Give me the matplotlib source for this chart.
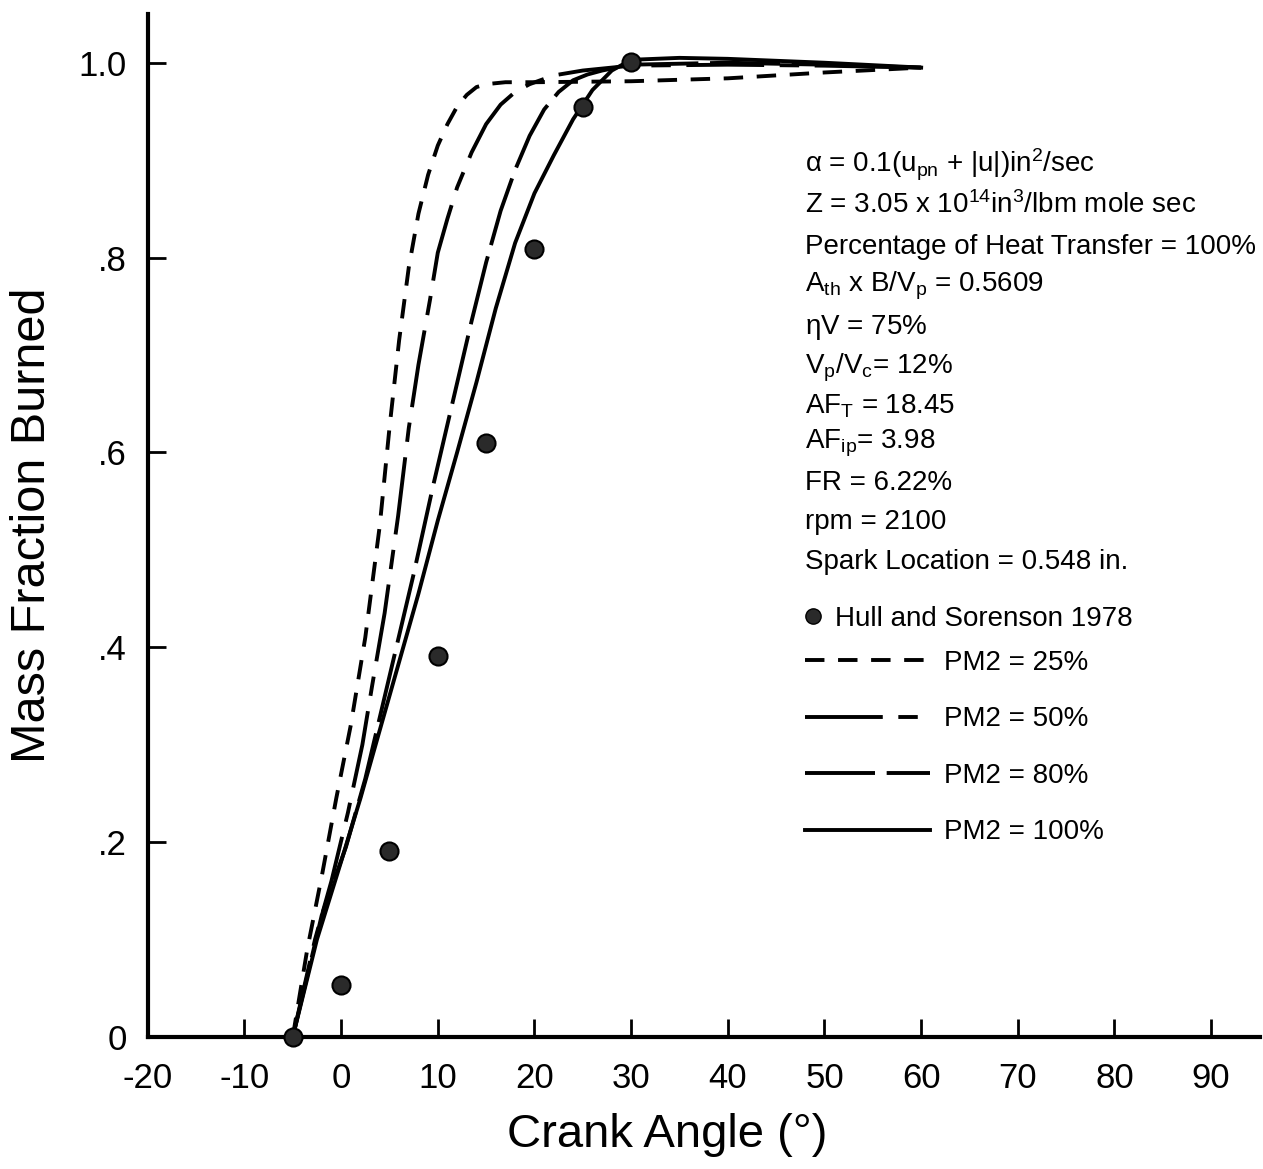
import matplotlib
matplotlib.use("Agg")
import matplotlib.pyplot as plt
from matplotlib.lines import Line2D

plt.rcParams['font.family'] = ['Liberation Sans', 'DejaVu Sans']
plt.rcParams['mathtext.fontset'] = 'custom'
plt.rcParams['mathtext.rm'] = 'Liberation Sans'
plt.rcParams['mathtext.it'] = 'Liberation Sans'
plt.rcParams['mathtext.default'] = 'regular'

# Hull and Sorenson 1978 measurements
exp_x = [-5, 0, 5, 10, 15, 20, 25, 30]
exp_y = [0.0, 0.053, 0.191, 0.391, 0.61, 0.809, 0.955, 1.001]

# PM2 = 25 %
pm25_x = [-5, -3.5, -2, -0.5, 1, 2.5, 4, 5, 6, 7, 8, 9, 10, 11, 12, 13, 14, 15, 17,
          20, 30, 40, 50, 60]
pm25_y = [0.0, 0.09, 0.165, 0.245, 0.32, 0.41, 0.525, 0.625, 0.715, 0.79, 0.845, 0.885,
          0.915, 0.937, 0.955, 0.967, 0.975, 0.978, 0.98, 0.98, 0.981, 0.984, 0.99, 0.995]

# PM2 = 50 %
pm50_x = [-5, -2.7, -1, 0.7, 2.2, 3.2, 4.5, 5.9, 7, 8, 9.2, 10, 11, 12, 13.5, 15, 16.5,
          18, 19.5, 22, 25, 30, 40, 50, 60]
pm50_y = [0.0, 0.1, 0.16, 0.23, 0.3, 0.36, 0.435, 0.535, 0.625, 0.69, 0.757, 0.805, 0.84,
          0.872, 0.908, 0.937, 0.957, 0.97, 0.978, 0.987, 0.992, 0.997, 0.998, 0.997, 0.995]

# PM2 = 80 %
pm80_x = [-5, -2, 0.5, 2.5, 5, 7.5, 9.5, 11.5, 13.5, 15, 16.5, 18, 19.5, 21, 22.5, 24,
          25.5, 27, 30, 40, 50, 60]
pm80_y = [0.0, 0.125, 0.195, 0.265, 0.37, 0.475, 0.565, 0.65, 0.735, 0.795, 0.848,
          0.89, 0.925, 0.952, 0.97, 0.982, 0.988, 0.992, 0.998, 1.0, 0.998, 0.995]

# PM2 = 100 %
pm100_x = [-5, -2.5, 0, 2, 4, 6, 8, 10, 12, 14, 16, 18, 20, 22, 24, 26, 28, 30, 35,
           40, 50, 60]
pm100_y = [0.0, 0.1, 0.18, 0.245, 0.315, 0.385, 0.455, 0.53, 0.6, 0.672, 0.748, 0.815,
           0.866, 0.905, 0.942, 0.972, 0.992, 1.003, 1.005, 1.004, 1.0, 0.995]

x_ticks = [-20, -10, 0, 10, 20, 30, 40, 50, 60, 70, 80, 90]
y_ticks = [0, 0.2, 0.4, 0.6, 0.8, 1.0]
y_tick_labels = ['0', '.2', '.4', '.6', '.8', '1.0']

notes = [
    r"$\alpha$ = 0.1(u$_{pn}$ + |u|)in$^{2}$/sec",
    r"Z = 3.05 x 10$^{14}$in$^{3}$/lbm mole sec",
    "Percentage of Heat Transfer = 100%",
    r"A$_{th}$ x B/V$_{p}$ = 0.5609",
    r"$\eta$V = 75%",
    r"V$_{p}$/V$_{c}$= 12%",
    r"AF$_{T}$ = 18.45",
    r"AF$_{ip}$= 3.98",
    "FR = 6.22%",
    "rpm = 2100",
    "Spark Location = 0.548 in.",
]
note_y = [0.852, 0.813, 0.772, 0.734, 0.694, 0.654, 0.617, 0.580, 0.542, 0.503, 0.464]

fig = plt.figure(figsize=(12.63, 11.69), dpi=100)
ax = fig.add_axes([0.117, 0.113, 0.881, 0.875])

lw = 2.8
ax.plot(pm25_x, pm25_y, color='black', lw=lw, dashes=(5, 3.5))
ax.plot(pm50_x, pm50_y, color='black', lw=lw, dashes=(20, 4, 5, 4))
ax.plot(pm80_x, pm80_y, color='black', lw=lw, dashes=(18, 3))
ax.plot(pm100_x, pm100_y, color='black', lw=lw)
ax.plot(exp_x, exp_y, ls='none', marker='o', ms=13, mfc='#2a2a2a', mec='black',
        mew=1.5, zorder=5, clip_on=False)

ax.set_xlim(-20, 95.1)
ax.set_ylim(0, 1.05)
ax.set_xticks(x_ticks)
ax.set_yticks(y_ticks)
ax.set_yticklabels(y_tick_labels)
ax.set_xticklabels([str(t) for t in x_ticks])

ax.tick_params(axis='both', direction='in', length=13, width=2, labelsize=25)
ax.tick_params(axis='x', pad=18)
ax.tick_params(axis='y', pad=15)
for side in ['top', 'right']:
    ax.spines[side].set_visible(False)
for side in ['left', 'bottom']:
    ax.spines[side].set_linewidth(3)

ax.set_xlabel("Crank Angle (°)", fontsize=34)
ax.xaxis.set_label_coords(0.467, -0.074)
ax.set_ylabel("Mass Fraction Burned", fontsize=35)
ax.yaxis.set_label_coords(-0.083, 0.5)

for s, yy in zip(notes, note_y):
    ax.text(0.591, yy, s, transform=ax.transAxes, fontsize=20, va='center', ha='left')

h_exp = Line2D([], [], ls='none', marker='o', ms=11, mfc='#2a2a2a', mec='black')
leg1 = ax.legend([h_exp], ["Hull and Sorenson 1978"], loc='center left',
                 bbox_to_anchor=(0.575, 0.409), frameon=False, fontsize=20,
                 handlelength=0.8, handletextpad=0.4, borderpad=0)
ax.add_artist(leg1)

h25 = Line2D([], [], color='black', lw=lw, dashes=(5, 3.5))
h50 = Line2D([], [], color='black', lw=lw, dashes=(20, 4, 5, 4))
h80 = Line2D([], [], color='black', lw=lw, dashes=(18, 3))
h100 = Line2D([], [], color='black', lw=lw)
ax.legend([h25, h50, h80, h100], ["PM2 = 25%", "PM2 = 50%", "PM2 = 80%", "PM2 = 100%"],
          loc='upper left', bbox_to_anchor=(0.578, 0.392), frameon=False, fontsize=20,
          handlelength=4.5, handletextpad=0.5, labelspacing=1.1, borderpad=0)

fig.savefig("out.png", dpi=100)
